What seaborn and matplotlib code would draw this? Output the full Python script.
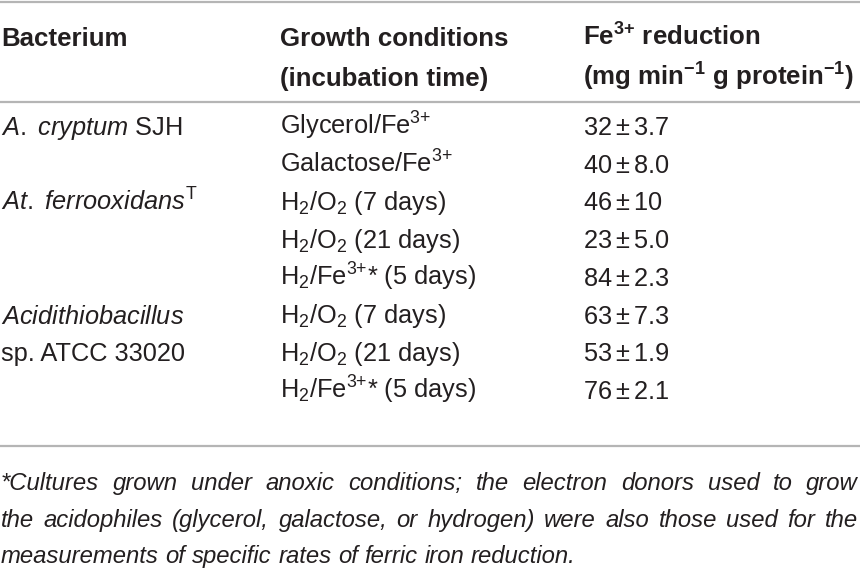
import matplotlib
matplotlib.use("Agg")
import matplotlib.pyplot as plt
import seaborn as sns

# table content
header_1 = ["Bacterium", "Growth conditions", r"Fe$^{\mathbf{3{+}}}$ reduction"]
header_2 = ["", "(incubation time)", r"(mg min$^{\mathbf{-1}}$ g protein$^{\mathbf{-1}}$)"]

bacteria = [r"$\mathit{A.}$ $\mathit{cryptum}$ SJH", "", r"$\mathit{At.}$ $\mathit{ferrooxidans}^{\mathrm{T}}$", "", "",
            r"$\mathit{Acidithiobacillus}$", "sp. ATCC 33020", ""]
conditions = [r"Glycerol/Fe$^{3{+}}$", r"Galactose/Fe$^{3{+}}$",
              r"H$_2$/O$_2$ (7 days)", r"H$_2$/O$_2$ (21 days)", r"H$_2$/Fe$^{3{+}}$* (5 days)",
              r"H$_2$/O$_2$ (7 days)", r"H$_2$/O$_2$ (21 days)", r"H$_2$/Fe$^{3{+}}$* (5 days)"]
rate_mean = [32, 40, 46, 23, 84, 63, 53, 76]
rate_sd = ["3.7", "8.0", "10", "5.0", "2.3", "7.3", "1.9", "2.1"]

footnote = ["*Cultures grown under anoxic conditions; the electron donors used to grow",
            "the acidophiles (glycerol, galactose, or hydrogen) were also those used for the",
            "measurements of specific rates of ferric iron reduction."]

sns.set_theme(style="white")

fam = "Liberation Sans"
plt.rcParams["font.family"] = [fam, "DejaVu Sans"]
plt.rcParams["mathtext.fontset"] = "custom"
plt.rcParams["mathtext.rm"] = fam
plt.rcParams["mathtext.it"] = fam + ":italic"
plt.rcParams["mathtext.bf"] = fam + ":bold"
plt.rcParams["mathtext.default"] = "rm"

ink = "#231f20"
rule = "#b5b5b5"
fs = 18.3
fs_head = 18.6
fs_foot = 17.2

fig = plt.figure(figsize=(8.6, 5.7), dpi=100)
ax = fig.add_axes([0, 0, 1, 1])
ax.set_xlim(0, 860)
ax.set_ylim(570, 0)
ax.axis("off")

col_x = [1, 280, 583]

for y in [2, 102, 446]:
    ax.axhline(y, color=rule, lw=1.6)

for i, h in enumerate(header_1):
    ax.text(col_x[i], 46, h, fontsize=fs_head, fontweight="bold", color=ink)
for i, h in enumerate(header_2):
    ax.text(col_x[i], 86, h, fontsize=fs_head, fontweight="bold", color=ink)

row_y0 = 135
row_step = 37.7
for r in range(len(conditions)):
    y = row_y0 + r * row_step
    ax.text(col_x[0], y, bacteria[r], fontsize=fs, color=ink)
    ax.text(col_x[1], y, conditions[r], fontsize=fs, color=ink)
    ax.text(col_x[2], y, rf"${rate_mean[r]} \pm {rate_sd[r]}$", fontsize=fs, color=ink)

# justified italic footnote
fig.canvas.draw()
renderer = fig.canvas.get_renderer()
foot_y = [490, 527, 563]
left, right = 1, 858
for k, line in enumerate(footnote):
    words = line.split(" ")
    texts = [ax.text(0, foot_y[k], w, fontsize=fs_foot, style="italic", color=ink) for w in words]
    widths = [t.get_window_extent(renderer).width for t in texts]
    if k < len(footnote) - 1:
        gap = (right - left - sum(widths)) / (len(words) - 1)
    else:
        sp = ax.text(0, 0, "a a", fontsize=fs_foot, style="italic")
        aa = ax.text(0, 0, "aa", fontsize=fs_foot, style="italic")
        gap = sp.get_window_extent(renderer).width - aa.get_window_extent(renderer).width
        sp.remove()
        aa.remove()
    x = left
    for t, w in zip(texts, widths):
        t.set_x(x)
        x += w + gap

fig.savefig("out.png", dpi=100, facecolor="white")
